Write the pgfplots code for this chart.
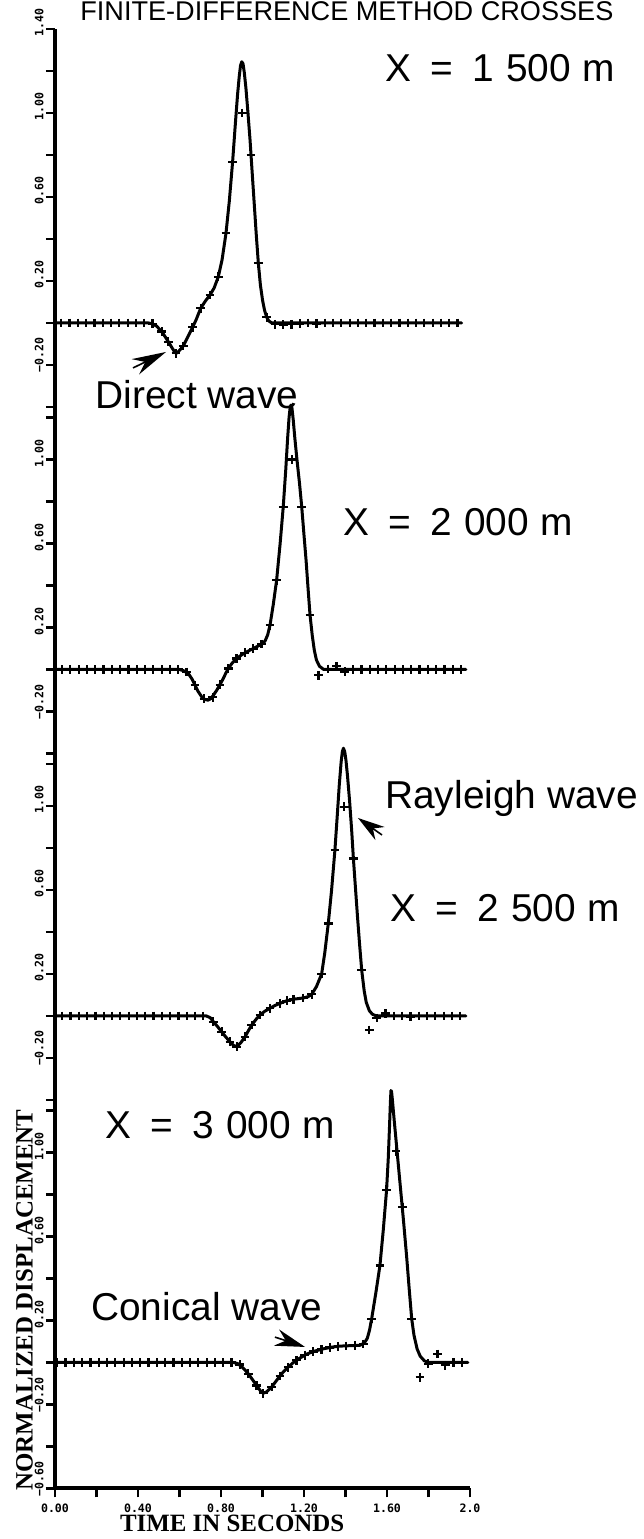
\documentclass[border=0pt]{standalone}
\usepackage{fontspec}
\setmainfont{Liberation Serif}
\setsansfont{Liberation Sans}
\newfontfamily\tickfont{DejaVu Sans Mono}
\usepackage{pgfplots}
\pgfplotsset{compat=1.18}
\usetikzlibrary{arrows.meta}

\tikzset{big/.style={font=\sffamily\fontsize{19.5}{22}\selectfont, anchor=base west, inner sep=0pt},
  yline/.style={black, line width=2bp, line cap=butt},
  dart/.style={line width=0.8bp}}
\newcommand{\gap}{\hspace{0.5em}}
\newcommand{\sgap}{\hspace{0.3em}}
\pgfplotsset{
  panel/.style={
    scale only axis,
    width=207.5bp,
    xmin=0, xmax=2.0,
    axis lines*=left,
    clip=false,
    tick align=outside,
    major tick length=4.5bp,
    axis line style={black, line width=2bp},
    every tick/.style={line width=1.3bp, black},
    yticklabel style={font=\tickfont\bfseries\fontsize{5.8}{7}\selectfont,
      yshift=-5bp, rotate=90, anchor=south west, inner sep=1bp},
    xticklabel style={font=\tickfont\bfseries\fontsize{5.8}{7}\selectfont,
      anchor=north, inner sep=0pt, yshift=-3bp},
  },
  upper/.style={
    x axis line style={draw=none},
    xtick=\empty,
  },
  curve/.style={black, line width=1.5bp, line join=round, line cap=round, no markers},
  fd/.style={black, only marks, mark=+, mark size=2.2bp, mark options={line width=1.1bp}},
}

\begin{document}
\begin{tikzpicture}

% ---------------- Panel 1 : X = 1500 m ----------------
\begin{axis}[panel, upper, at={(27.5bp,563.9bp)}, anchor=south west,
  height=191.1bp, ymin=-0.42, ymax=1.4,
  ytick={-0.4,-0.2,0,0.2,0.4,0.6,0.8,1.0,1.2,1.4},
  yticklabels={,−0.20,,0.20,,0.60,,1.00,,1.40}]
\draw[yline] (axis description cs:0,0) -- (axis description cs:0,1);
\addplot[curve] coordinates {
(0,0) (0.45,0) (0.47,-0.004) (0.49,-0.015) (0.514,-0.041) (0.53,-0.064)
(0.546,-0.089) (0.565,-0.12) (0.578,-0.14) (0.585,-0.144) (0.595,-0.136)
(0.618,-0.110) (0.64,-0.066) (0.663,-0.021) (0.68,0.015) (0.702,0.070)
(0.725,0.105) (0.747,0.133) (0.767,0.167) (0.787,0.220) (0.805,0.300)
(0.824,0.427) (0.84,0.580) (0.856,0.768) (0.87,0.960) (0.88,1.09)
(0.888,1.175) (0.894,1.225) (0.900,1.244) (0.906,1.235) (0.912,1.195)
(0.92,1.12) (0.93,1.00) (0.94,0.871) (0.95,0.72) (0.96,0.57) (0.97,0.42)
(0.98,0.284) (0.99,0.18) (1.00,0.11) (1.01,0.06) (1.02,0.028) (1.03,0.01)
(1.045,0) (1.96,0)};
\addplot[fd] coordinates {
(0.03,0)(0.07,0)(0.11,0)(0.15,0)(0.19,0)(0.23,0)(0.27,0)(0.31,0)(0.35,0)(0.39,0)(0.43,0)(0.47,-0.004)
(0.514,-0.041)(0.546,-0.089)(0.583,-0.144)(0.618,-0.110)(0.663,-0.021)(0.702,0.070)(0.747,0.133)
(0.787,0.220)(0.824,0.427)(0.856,0.768)(0.903,1.000)(0.945,0.800)(0.980,0.284)(1.020,0.028)
(1.06,-0.006)(1.10,-0.008)(1.14,-0.006)(1.18,-0.004)(1.22,0)(1.26,-0.004)(1.30,0)(1.34,0)(1.38,0)
(1.42,0)(1.46,0)(1.50,0)(1.54,0)(1.58,0)(1.62,0)(1.66,0)(1.70,0)(1.74,0)(1.78,0)(1.82,0)(1.86,0)
(1.90,0)(1.94,0)};
\node[big] at (axis cs:1.590,1.148) {X\gap=\gap1\sgap500\sgap m};
\node[big] at (axis cs:0.193,-0.405) {Direct wave};
\draw[dart, -{Stealth[length=17bp,width=8.5bp]}] (axis cs:0.376,-0.214) -- (axis cs:0.535,-0.138);
\end{axis}

% ---------------- Panel 2 : X = 2000 m ----------------
\begin{axis}[panel, upper, at={(27.5bp,390.65bp)}, anchor=south west,
  height=173.25bp, ymin=-0.42, ymax=1.23,
  ytick={-0.4,-0.2,0,0.2,0.4,0.6,0.8,1.0,1.2},
  yticklabels={,−0.20,,0.20,,0.60,,1.00,}]
\draw[yline] (axis description cs:0,0) -- (axis description cs:0,1);
\addplot[curve] coordinates {
(0,0) (0.60,0) (0.62,-0.006) (0.643,-0.02) (0.66,-0.045) (0.675,-0.075)
(0.69,-0.105) (0.707,-0.13) (0.722,-0.143) (0.738,-0.146) (0.752,-0.138)
(0.765,-0.12) (0.78,-0.098) (0.795,-0.072) (0.81,-0.045) (0.822,-0.02)
(0.835,0.005) (0.855,0.032) (0.875,0.052) (0.90,0.07) (0.924,0.084)
(0.95,0.097) (0.972,0.108) (0.993,0.12) (1.012,0.135) (1.025,0.165)
(1.036,0.21) (1.052,0.31) (1.068,0.425) (1.085,0.60) (1.10,0.775)
(1.112,0.95) (1.121,1.10) (1.128,1.20) (1.133,1.245) (1.137,1.259)
(1.142,1.245) (1.148,1.19) (1.156,1.10) (1.166,1.00) (1.178,0.89)
(1.189,0.775) (1.20,0.64) (1.21,0.52) (1.22,0.38) (1.229,0.26) (1.24,0.16)
(1.25,0.09) (1.26,0.045) (1.275,0.015) (1.295,0) (1.98,0)};
\addplot[fd] coordinates {
(0.034,0)(0.074,0)(0.114,0)(0.154,0)(0.194,0)(0.234,0)(0.274,0)(0.314,0)(0.354,0)(0.394,0)
(0.434,0)(0.474,0)(0.514,0)(0.554,0)(0.594,0)
(0.634,-0.012)(0.675,-0.075)(0.718,-0.140)(0.760,-0.132)(0.795,-0.072)(0.835,0.005)(0.875,0.052)
(0.915,0.080)(0.955,0.099)(0.995,0.121)(1.036,0.210)(1.068,0.425)(1.100,0.775)(1.144,1.000)
(1.189,0.775)(1.229,0.260)(1.270,-0.027)(1.317,0.002)(1.357,0.015)(1.397,-0.010)
(1.437,0)(1.477,0)(1.517,0)(1.557,0)(1.597,0)(1.637,0)(1.677,0)(1.717,0)(1.757,0)(1.797,0)
(1.837,0)(1.877,0)(1.917,0)(1.957,0)};
\node[big] at (axis cs:1.388,0.640) {X\gap=\gap2\sgap000\sgap m};
\end{axis}

% ---------------- Panel 3 : X = 2500 m ----------------
\begin{axis}[panel, upper, at={(27.5bp,217.4bp)}, anchor=south west,
  height=173.25bp, ymin=-0.42, ymax=1.23,
  ytick={-0.4,-0.2,0,0.2,0.4,0.6,0.8,1.0,1.2},
  yticklabels={,−0.20,,0.20,,0.60,,1.00,}]
\draw[yline] (axis description cs:0,0) -- (axis description cs:0,1);
\addplot[curve] coordinates {
(0,0) (0.73,0) (0.748,-0.008) (0.763,-0.027) (0.783,-0.05) (0.803,-0.075)
(0.823,-0.10) (0.843,-0.122) (0.86,-0.14) (0.876,-0.146) (0.895,-0.128)
(0.916,-0.099) (0.932,-0.07) (0.948,-0.043) (0.968,-0.017) (0.988,0.005)
(1.01,0.022) (1.036,0.037) (1.06,0.05) (1.084,0.06) (1.115,0.072)
(1.149,0.08) (1.175,0.083) (1.197,0.086) (1.22,0.092) (1.237,0.103)
(1.26,0.14) (1.285,0.200) (1.30,0.30) (1.317,0.440) (1.333,0.60)
(1.349,0.79) (1.36,0.95) (1.37,1.10) (1.379,1.21) (1.385,1.26) (1.39,1.275)
(1.396,1.26) (1.402,1.22) (1.41,1.14) (1.42,1.02) (1.43,0.88) (1.438,0.75)
(1.448,0.61) (1.458,0.47) (1.468,0.34) (1.478,0.219) (1.49,0.12) (1.50,0.065)
(1.515,0.025) (1.53,0.008) (1.55,0) (1.98,0)};
\addplot[fd] coordinates {
(0.035,0)(0.075,0)(0.115,0)(0.155,0)(0.195,0)(0.235,0)(0.275,0)(0.315,0)(0.355,0)(0.395,0)
(0.435,0)(0.475,0)(0.515,0)(0.555,0)(0.595,0)(0.635,0)(0.675,0)(0.715,0)
(0.763,-0.027)(0.803,-0.075)(0.843,-0.122)(0.876,-0.146)(0.916,-0.099)(0.948,-0.043)(0.988,0.005)
(1.036,0.037)(1.084,0.060)(1.117,0.072)(1.149,0.080)(1.197,0.086)(1.237,0.103)(1.285,0.200)
(1.317,0.440)(1.349,0.790)(1.394,0.997)(1.438,0.750)(1.478,0.219)(1.515,-0.067)(1.550,-0.010)
(1.593,0.012)(1.633,0)(1.673,0)(1.713,-0.004)(1.753,0)(1.793,0)(1.833,0)(1.873,0)(1.913,0)(1.953,0)};
\node[big] at (axis cs:1.590,0.990) {Rayleigh wave};
\draw[dart, -{Stealth[length=13.5bp,width=8bp]}] (axis cs:1.576,0.862) -- (axis cs:1.460,0.943);
\node[big] at (axis cs:1.614,0.448) {X\gap=\gap2\sgap500\sgap m};
\end{axis}

% ---------------- Panel 4 : X = 3000 m ----------------
\begin{axis}[panel, at={(27.5bp,25.25bp)}, anchor=south west,
  height=192.15bp, ymin=-0.6, ymax=1.23,
  xtick={0,0.2,0.4,0.6,0.8,1.0,1.2,1.4,1.6,1.8,2.0},
  xticklabels={0.00,,0.40,,0.80,,1.20,,1.60,,2.0},
  ytick={-0.6,-0.4,-0.2,0,0.2,0.4,0.6,0.8,1.0,1.2},
  yticklabels={−0.60,,−0.20,,0.20,,0.60,,1.00,},
  xlabel={\bfseries TIME IN SECONDS},
  ylabel={\bfseries NORMALIZED DISPLACEMENT},
  every axis x label/.style={at={(axis description cs:0.427,-0.069)}, anchor=north, inner sep=0pt,
     font=\fontsize{12.5}{14}\selectfont},
  every axis y label/.style={at={(axis description cs:-0.0735,0.49)}, rotate=90, anchor=center, inner sep=0pt,
     font=\fontsize{12.5}{14}\selectfont}]
\draw[yline, line join=miter] (axis description cs:0,1) -- (axis description cs:0,0) -- (axis description cs:1,0);
\addplot[curve] coordinates {
(0,0) (0.86,0) (0.88,-0.005) (0.90,-0.02) (0.915,-0.035) (0.932,-0.054)
(0.952,-0.082) (0.972,-0.11) (0.99,-0.135) (1.004,-0.146) (1.02,-0.140)
(1.044,-0.117) (1.068,-0.085) (1.092,-0.054) (1.12,-0.025) (1.149,0.0)
(1.18,0.021) (1.213,0.040) (1.25,0.054) (1.293,0.065) (1.333,0.073)
(1.373,0.078) (1.42,0.080) (1.47,0.082) (1.49,0.092) (1.505,0.115) (1.516,0.155)
(1.526,0.208) (1.546,0.33) (1.566,0.462) (1.582,0.63) (1.598,0.822)
(1.606,0.97) (1.612,1.12) (1.616,1.23) (1.619,1.295) (1.622,1.29) (1.626,1.25)
(1.635,1.15) (1.65,0.99) (1.665,0.83) (1.68,0.67) (1.695,0.50) (1.707,0.35)
(1.719,0.208) (1.73,0.13) (1.745,0.065) (1.76,0.03) (1.78,0.008) (1.80,0) (1.99,0)};
\addplot[fd] coordinates {
(0.011,0)(0.051,0)(0.091,0)(0.131,0)(0.171,0)(0.211,0)(0.251,0)(0.291,0)(0.331,0)(0.371,0)
(0.411,0)(0.451,0)(0.491,0)(0.531,0)(0.571,0)(0.611,0)(0.651,0)(0.691,0)(0.731,0)(0.771,0)
(0.811,0)(0.851,0)
(0.891,-0.010)(0.931,-0.054)(0.971,-0.110)(1.004,-0.146)(1.044,-0.117)(1.084,-0.064)(1.124,-0.022)
(1.164,0.011)(1.204,0.035)(1.244,0.052)(1.284,0.063)(1.324,0.071)(1.364,0.077)(1.404,0.079)
(1.444,0.081)(1.486,0.088)(1.526,0.208)(1.566,0.462)(1.598,0.822)(1.643,1.006)(1.675,0.740)
(1.719,0.208)(1.759,-0.070)(1.799,-0.006)(1.843,0.040)(1.880,-0.013)(1.920,0)(1.960,0)};
\node[big] at (axis cs:0.241,1.069) {X\gap=\gap3\sgap000\sgap m};
\node[big] at (axis cs:0.173,0.198) {Conical wave};
\draw[dart, -{Stealth[length=15bp,width=8.5bp]}] (axis cs:1.060,0.121) -- (axis cs:1.205,0.074);
\end{axis}

\node[anchor=base west, inner sep=0pt, font=\sffamily\fontsize{13.6}{15}\selectfont]
  at (40bp,759bp) {FINITE-DIFFERENCE METHOD CROSSES};

\pgfresetboundingbox
\useasboundingbox (0,0) rectangle (322bp,769.5bp);
\end{tikzpicture}
\end{document}
